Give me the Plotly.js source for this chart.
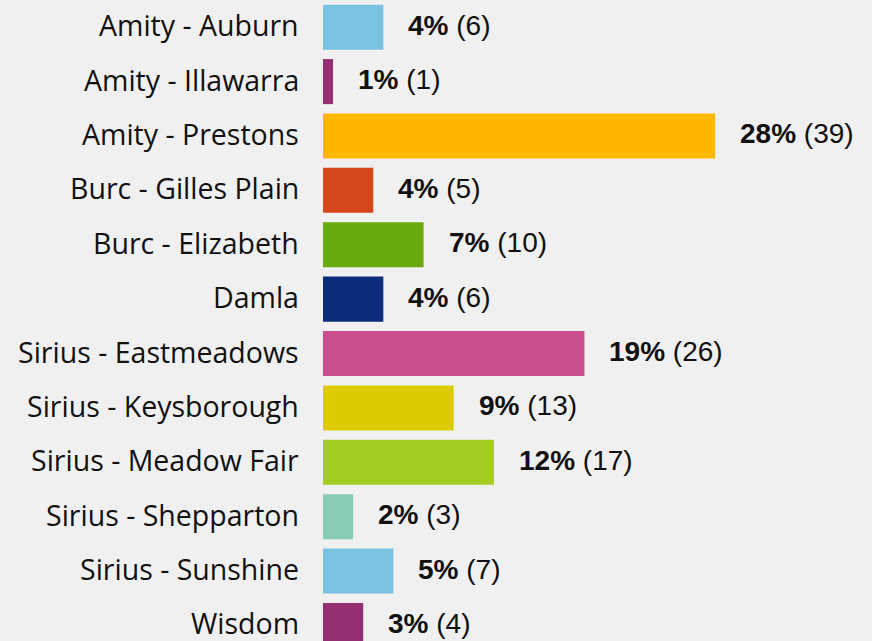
<!DOCTYPE html>
<html>
<head>
<meta charset="utf-8">
<script src="https://cdn.plot.ly/plotly-3.0.1.min.js"></script>
<style>html,body{margin:0;padding:0;background:#f0f0f0;}#chart{width:872px;height:641px;}</style>
</head>
<body>
<div id="chart"></div>
<script>
const categories = ["Amity - Auburn","Amity - Illawarra","Amity - Prestons","Burc - Gilles Plain","Burc - Elizabeth","Damla","Sirius - Eastmeadows","Sirius - Keysborough","Sirius - Meadow Fair","Sirius - Shepparton","Sirius - Sunshine","Wisdom"];
const counts = [6,1,39,5,10,6,26,13,17,3,7,4];
const percents = [4,1,28,4,7,4,19,9,12,2,5,3];
const colors = ["#79c2e2","#953070","#ffb700","#d5461a","#69ab0f","#0c2e7a","#c84d8e","#dccb00","#a4cc22","#87ccb3","#79c2e2","#953070"];

const trace = {
  type: "bar",
  orientation: "h",
  y: categories,
  x: counts,
  marker: {color: colors},
  hoverinfo: "none"
};

const valueLabels = categories.map((c, i) => ({
  x: counts[i], y: c, xref: "x", yref: "y",
  xanchor: "left", yanchor: "middle",
  xshift: 23, yshift: 2, showarrow: false,
  text: "<b>" + percents[i] + "%</b> (" + counts[i] + ")",
  font: {family: "Liberation Sans, Arial, sans-serif", size: 28, color: "#111"}
}));

const categoryLabels = categories.map((c) => ({
  x: 0, y: c, xref: "paper", yref: "y",
  xanchor: "right", yanchor: "middle",
  xshift: -22, yshift: 2, showarrow: false,
  text: c,
  font: {family: "Open Sans, sans-serif", size: 28.5, color: "#111"}
}));

const layout = {
  width: 872, height: 641,
  margin: {l: 323, r: 0, t: 0, b: 0, pad: 0},
  paper_bgcolor: "#f0f0f0",
  plot_bgcolor: "#f0f0f0",
  bargap: 0.172,
  showlegend: false,
  xaxis: {range: [0, 54.6], visible: false, fixedrange: true},
  yaxis: {
    type: "category",
    range: [11.286, -0.5],
    showticklabels: false, ticks: "",
    showline: false, showgrid: false, zeroline: false
  },
  annotations: valueLabels.concat(categoryLabels)
};

Plotly.newPlot("chart", [trace], layout, {staticPlot: true, displayModeBar: false});
</script>
</body>
</html>
